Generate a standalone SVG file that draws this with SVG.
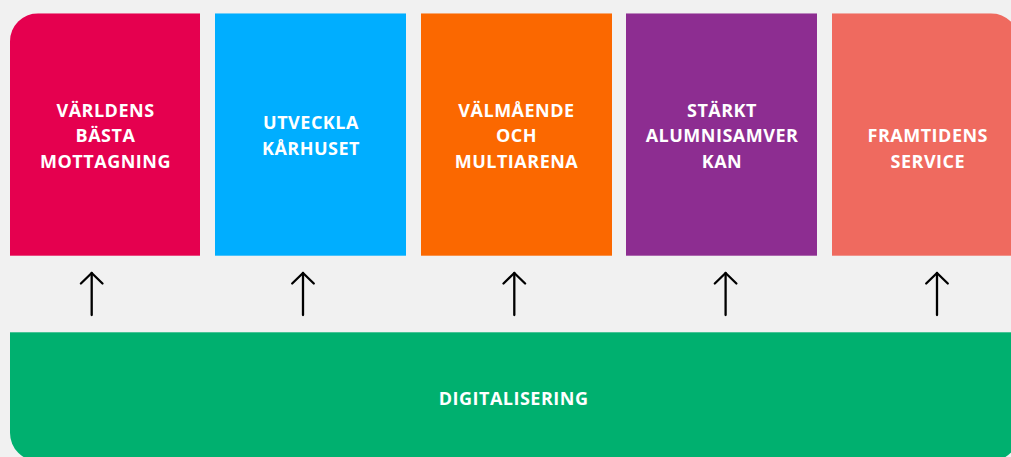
<svg xmlns="http://www.w3.org/2000/svg" width="1011" height="457" viewBox="0 0 1011 457">
  <defs>
    <clipPath id="frame">
      <rect x="10" y="13.3" width="1009" height="447.7" rx="28" ry="28"/>
    </clipPath>
    <marker id="head" viewBox="-15 -15 30 30" refX="0" refY="0" markerWidth="30" markerHeight="30" markerUnits="userSpaceOnUse" orient="auto" overflow="visible">
      <path d="M-10.5,-10.8 L0,0 L-10.5,10.8" fill="none" stroke="#000" stroke-width="2.3" stroke-linecap="round" stroke-linejoin="round"/>
    </marker>
    <style>
      .lbl { font-family: "Open Sans", "Liberation Sans", sans-serif; font-weight: 700; font-size: 18px; letter-spacing: 0.5px; fill: #ffffff; text-anchor: middle; }
      .arrow { stroke: #000; stroke-width: 2.3; fill: none; stroke-linecap: round; marker-end: url(#head); }
    </style>
  </defs>
  <rect x="0" y="0" width="1011" height="457" fill="#f1f1f1"/>
  <g clip-path="url(#frame)">
    <g id="node-varldens">
      <rect x="10" y="13.3" width="190" height="242.4" fill="#e5004f"/>
      <text class="lbl"><tspan x="105.5" y="116.5">VÄRLDENS</tspan><tspan x="105.5" y="142.3">BÄSTA</tspan><tspan x="105.5" y="168">MOTTAGNING</tspan></text>
    </g>
    <g id="node-utveckla">
      <rect x="215" y="13.3" width="191" height="242.4" fill="#00aeff"/>
      <text class="lbl"><tspan x="311" y="128.5">UTVECKLA</tspan><tspan x="311" y="154.8">KÅRHUSET</tspan></text>
    </g>
    <g id="node-valmaende">
      <rect x="421" y="13.3" width="191" height="242.4" fill="#fb6800"/>
      <text class="lbl"><tspan x="516.5" y="116.5">VÄLMÅENDE</tspan><tspan x="516.5" y="142.3">OCH</tspan><tspan x="516.5" y="168">MULTIARENA</tspan></text>
    </g>
    <g id="node-alumni">
      <rect x="626" y="13.3" width="191" height="242.4" fill="#8d2d91"/>
      <text class="lbl"><tspan x="722" y="116.5">STÄRKT</tspan><tspan x="722" y="142.3">ALUMNISAMVER</tspan><tspan x="722" y="168">KAN</tspan></text>
    </g>
    <g id="node-service">
      <rect x="832" y="13.3" width="192" height="242.4" fill="#ef6a5f"/>
      <text class="lbl"><tspan x="927.8" y="141.8">FRAMTIDENS</tspan><tspan x="927.8" y="167.8">SERVICE</tspan></text>
    </g>
    <g id="node-digitalisering">
      <rect x="10" y="332.3" width="1009" height="128.7" fill="#00b06f"/>
      <text class="lbl" x="513.6" y="404.8">DIGITALISERING</text>
    </g>
  </g>
  <g id="connectors">
    <line class="arrow" x1="91.7" y1="315" x2="91.7" y2="273"/>
    <line class="arrow" x1="303" y1="315" x2="303" y2="273"/>
    <line class="arrow" x1="514.3" y1="315" x2="514.3" y2="273"/>
    <line class="arrow" x1="725.6" y1="315" x2="725.6" y2="273"/>
    <line class="arrow" x1="937" y1="315" x2="937" y2="273"/>
  </g>
</svg>
